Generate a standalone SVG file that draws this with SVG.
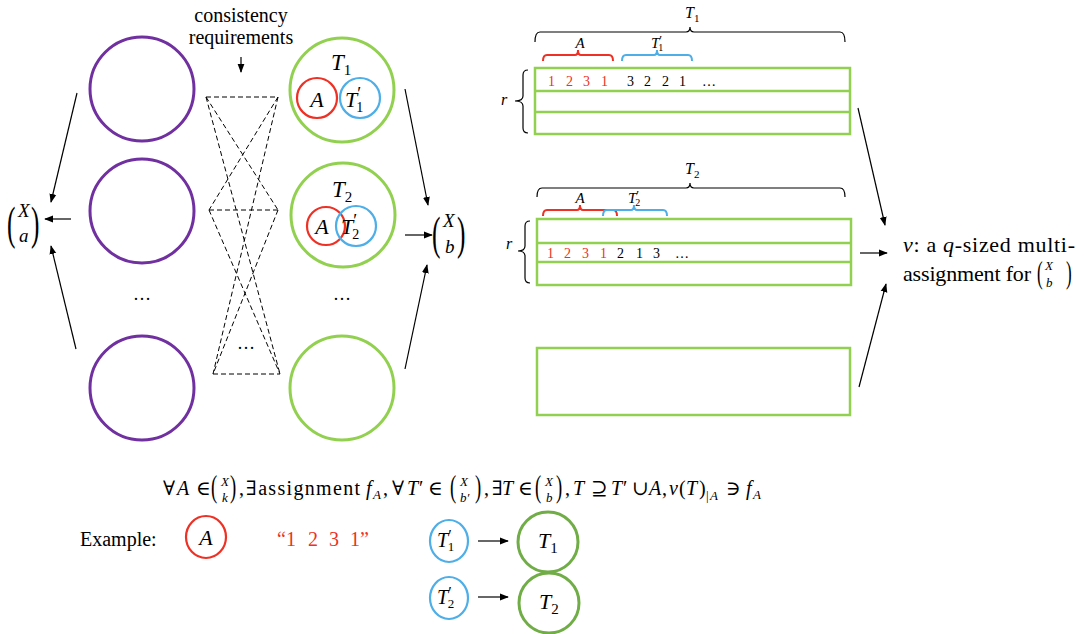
<svg xmlns="http://www.w3.org/2000/svg" width="1084" height="634" viewBox="0 0 1084 634" font-family="'Liberation Serif', 'Times New Roman', Times, 'DejaVu Serif', serif">
<defs>
<marker id="ah" viewBox="0 0 10 10" refX="9" refY="5" markerWidth="9" markerHeight="9" orient="auto" markerUnits="userSpaceOnUse"><path d="M0,1.2 L10,5 L0,8.8 z" fill="#000"/></marker>
</defs>
<style>
text{font-family:'Liberation Serif','Times New Roman',Times,'DejaVu Serif',serif;fill:#000}
.i{font-style:italic}
.pu{fill:none;stroke:#7030A0;stroke-width:3}
.gr{fill:none;stroke:#92D050;stroke-width:3}
.gd{fill:none;stroke:#70AD47;stroke-width:3}
.rd{fill:none;stroke:#EE3124;stroke-width:2.2}
.bl{fill:none;stroke:#4EAEE8;stroke-width:2.2}
.tb{fill:none;stroke:#92D050;stroke-width:2.5}
.dash{stroke:#000;stroke-width:1;stroke-dasharray:5 3;fill:none}
.arr{stroke:#000;stroke-width:1.2;fill:none;marker-end:url(#ah)}
.br{fill:none;stroke:#000;stroke-width:1.2}
.brr{fill:none;stroke:#EE3124;stroke-width:2}
.brb{fill:none;stroke:#4EAEE8;stroke-width:2}
.red{fill:#EE3124}
</style>
<rect width="1084" height="634" fill="#fff"/>

<g id="consistency-label">
<text x="241" y="22" font-size="20" text-anchor="middle">consistency</text>
<text x="241" y="44" font-size="20" text-anchor="middle">requirements</text>
</g>

<g id="purple-1"><circle class="pu" cx="142" cy="89" r="52"/></g>
<g id="purple-2"><circle class="pu" cx="142" cy="211" r="52"/></g>
<g id="purple-3"><circle class="pu" cx="142" cy="388" r="52"/></g>
<text x="142" y="300" font-size="18" text-anchor="middle">…</text>

<g id="green-T1">
<circle class="gr" cx="342" cy="90" r="52"/>
<text class="i" x="331" y="70" font-size="23">T<tspan font-style="normal" font-size="15" dy="5">1</tspan></text>
<circle class="rd" cx="317" cy="98" r="20"/>
<text class="i" x="317" y="107" font-size="22" text-anchor="middle">A</text>
<circle class="bl" cx="360" cy="98" r="20"/>
<text class="i" x="345" y="107" font-size="22">T<tspan font-style="normal" font-size="18" dy="-7">′</tspan><tspan font-style="normal" font-size="14" dx="-5" dy="12">1</tspan></text>
</g>
<g id="green-T2">
<circle class="gr" cx="343" cy="215" r="52"/>
<text class="i" x="332" y="197" font-size="23">T<tspan font-style="normal" font-size="15" dy="5">2</tspan></text>
<circle class="rd" cx="326" cy="226" r="19"/>
<text class="i" x="322" y="234" font-size="22" text-anchor="middle">A</text>
<circle class="bl" cx="356" cy="226" r="20"/>
<text class="i" x="341" y="234" font-size="22">T<tspan font-style="normal" font-size="18" dy="-7">′</tspan><tspan font-style="normal" font-size="14" dx="-5" dy="12">2</tspan></text>
</g>
<g id="green-3"><circle class="gr" cx="342" cy="388" r="52"/></g>
<text x="342" y="300" font-size="18" text-anchor="middle">…</text>
<text x="246" y="349" font-size="18" text-anchor="middle">…</text>

<g id="binom-a">
<text transform="translate(7,239) scale(0.55,1)" font-size="46">(</text>
<text class="i" x="18" y="217" font-size="19">X</text>
<text class="i" x="19" y="242" font-size="19">a</text>
<text transform="translate(31,239) scale(0.55,1)" font-size="46">)</text>
</g>
<g id="binom-b">
<text transform="translate(432,249) scale(0.55,1)" font-size="46">(</text>
<text class="i" x="443" y="227" font-size="19">X</text>
<text class="i" x="445" y="253" font-size="19">b</text>
<text transform="translate(457,249) scale(0.55,1)" font-size="46">)</text>
</g>

<g id="table-T1">
<text class="i" x="685" y="18" font-size="16">T<tspan font-style="normal" font-size="11" dy="4">1</tspan></text>
<path class="br" d="M535,42 Q535,32 540,32 L686,32 Q690,32 690,27 Q690,32 694,32 L840,32 Q845,32 845,42"/>
<text class="i" x="580" y="48" font-size="15" text-anchor="middle">A</text>
<path class="brr" d="M543,61 Q543,55 547,55 L575,55 Q578,55 578,50 Q578,55 581,55 L609,55 Q613,55 613,61"/>
<text class="i" x="651" y="48" font-size="15">T<tspan font-style="normal" font-size="13" dy="-4">′</tspan><tspan font-style="normal" font-size="10" dx="-4" dy="7">1</tspan></text>
<path class="brb" d="M622,61 Q622,55 626,55 L654,55 Q657,55 657,50 Q657,55 660,55 L688,55 Q692,55 692,61"/>
<text class="i" x="501" y="105" font-size="16">r</text>
<path class="br" d="M528,70 Q523,70 523,75 L523,96 Q523,101 515,101 Q523,101 523,106 L523,128 Q523,133 528,133"/>
<rect class="tb" x="535" y="68" width="315" height="66"/>
<line class="tb" x1="535" y1="91" x2="850" y2="91"/>
<line class="tb" x1="535" y1="112" x2="850" y2="112"/>
<text font-size="14" y="86"><tspan class="red" x="548">1</tspan><tspan class="red" x="566">2</tspan><tspan class="red" x="583">3</tspan><tspan class="red" x="601">1</tspan><tspan x="627">3</tspan><tspan x="644">2</tspan><tspan x="662">2</tspan><tspan x="679">1</tspan><tspan x="702">…</tspan></text>
</g>

<g id="table-T2">
<text class="i" x="685" y="174" font-size="16">T<tspan font-style="normal" font-size="11" dy="4">2</tspan></text>
<path class="br" d="M537,197 Q537,188 542,188 L686,188 Q690,188 690,183 Q690,188 694,188 L840,188 Q845,188 845,197"/>
<text class="i" x="580" y="203" font-size="15" text-anchor="middle">A</text>
<path class="brr" d="M543,216 Q543,210 547,210 L577,210 Q580,210 580,205 Q580,210 583,210 L613,210 Q617,210 617,216"/>
<text class="i" x="628" y="203" font-size="15">T<tspan font-style="normal" font-size="13" dy="-4">′</tspan><tspan font-style="normal" font-size="10" dx="-4" dy="7">2</tspan></text>
<path class="brb" d="M603,216 Q603,210 607,210 L631,210 Q634,210 634,205 Q634,210 637,210 L663,210 Q667,210 667,216"/>
<text class="i" x="506" y="249" font-size="16">r</text>
<path class="br" d="M530,221 Q525,221 525,226 L525,246 Q525,251 518,251 Q525,251 525,256 L525,278 Q525,283 530,283"/>
<rect class="tb" x="537" y="219" width="314" height="66"/>
<line class="tb" x1="537" y1="243" x2="851" y2="243"/>
<line class="tb" x1="537" y1="262" x2="851" y2="262"/>
<text font-size="14" y="258"><tspan class="red" x="547">1</tspan><tspan class="red" x="564">2</tspan><tspan class="red" x="582">3</tspan><tspan class="red" x="600">1</tspan><tspan x="617">2</tspan><tspan x="636">1</tspan><tspan x="653">3</tspan><tspan x="675">…</tspan></text>
</g>

<g id="table-3"><rect class="tb" x="537" y="348" width="313" height="67"/></g>

<g id="v-label">
<text x="903" y="252" font-size="22" textLength="172" lengthAdjust="spacing"><tspan class="i">v</tspan>: a <tspan class="i">q</tspan>-sized multi-</text>
<text x="903" y="281" font-size="22" textLength="128" lengthAdjust="spacing">assignment for</text>
<text transform="translate(1037,283) scale(0.55,1)" font-size="31">(</text>
<text class="i" x="1045" y="270" font-size="13">X</text>
<text class="i" x="1046" y="287" font-size="13">b</text>
<text transform="translate(1066,283) scale(0.55,1)" font-size="31">)</text>
</g>

<g id="connectors">
<line class="arr" x1="241" y1="57" x2="241" y2="72"/>
<line class="dash" x1="206" y1="97" x2="278" y2="97"/>
<line class="dash" x1="209" y1="210" x2="278" y2="210"/>
<line class="dash" x1="213" y1="374" x2="280" y2="374"/>
<line class="dash" x1="206" y1="97" x2="278" y2="210"/>
<line class="dash" x1="278" y1="97" x2="209" y2="210"/>
<line class="dash" x1="206" y1="97" x2="280" y2="374"/>
<line class="dash" x1="278" y1="97" x2="213" y2="374"/>
<line class="dash" x1="209" y1="210" x2="280" y2="374"/>
<line class="dash" x1="278" y1="210" x2="213" y2="374"/>
<line class="arr" x1="77" y1="93" x2="51" y2="202"/>
<line class="arr" x1="71" y1="219" x2="45" y2="219"/>
<line class="arr" x1="76" y1="349" x2="51" y2="246"/>
<line class="arr" x1="405" y1="89" x2="428" y2="205"/>
<line class="arr" x1="405" y1="235" x2="432" y2="235"/>
<line class="arr" x1="405" y1="369" x2="427" y2="265"/>
<line class="arr" x1="858" y1="108" x2="885" y2="225"/>
<line class="arr" x1="860" y1="253" x2="887" y2="253"/>
<line class="arr" x1="859" y1="387" x2="886" y2="284"/>
<line class="arr" x1="478" y1="541" x2="508" y2="541"/>
<line class="arr" x1="478" y1="597" x2="508" y2="597"/>
</g>

<g id="formula" font-size="20">
<text y="495"><tspan x="163">∀</tspan><tspan class="i" x="177">A</tspan><tspan x="196">∈</tspan></text>
<text transform="translate(211,497) scale(0.6,1)" font-size="31">(</text>
<text class="i" x="221" y="486" font-size="13">X</text>
<text class="i" x="222" y="502" font-size="13">k</text>
<text transform="translate(230,497) scale(0.6,1)" font-size="31">)</text>
<text y="495"><tspan x="239">,</tspan><tspan x="246" textLength="114" lengthAdjust="spacing">∃assignment</tspan><tspan class="i" x="366">f</tspan><tspan class="i" x="373" y="499" font-size="13">A</tspan><tspan x="383" y="495">,</tspan><tspan x="392">∀</tspan><tspan class="i" x="407">T</tspan><tspan x="419">′</tspan><tspan x="428">∈</tspan></text>
<text transform="translate(450,497) scale(0.6,1)" font-size="31">(</text>
<text class="i" x="460" y="486" font-size="13">X</text>
<text class="i" x="460" y="502" font-size="13">b′</text>
<text transform="translate(475,497) scale(0.6,1)" font-size="31">)</text>
<text y="495"><tspan x="484">,</tspan><tspan x="492">∃</tspan><tspan class="i" x="502">T</tspan><tspan x="518">∈</tspan></text>
<text transform="translate(535,497) scale(0.6,1)" font-size="31">(</text>
<text class="i" x="545" y="486" font-size="13">X</text>
<text class="i" x="546" y="502" font-size="13">b</text>
<text transform="translate(556,497) scale(0.6,1)" font-size="31">)</text>
<text y="495"><tspan x="565">,</tspan><tspan class="i" x="573">T</tspan><tspan x="591">⊇</tspan><tspan class="i" x="611">T</tspan><tspan x="623">′</tspan><tspan x="632">∪</tspan><tspan class="i" x="649">A</tspan><tspan x="662">,</tspan><tspan class="i" x="669">v</tspan><tspan x="679">(</tspan><tspan class="i" x="686">T</tspan><tspan x="699">)</tspan><tspan x="706" y="500" font-size="13">|</tspan><tspan class="i" x="710" y="500" font-size="13">A</tspan><tspan x="726" y="495">∋</tspan><tspan class="i" x="746">f</tspan><tspan class="i" x="753" y="499" font-size="13">A</tspan></text>
</g>

<g id="example">
<text x="80" y="546" font-size="20">Example:</text>
<ellipse class="rd" cx="206" cy="537" rx="20" ry="21"/>
<text class="i" x="206" y="545" font-size="22" text-anchor="middle">A</text>
<text class="red" font-size="20" y="546"><tspan x="277">“1</tspan><tspan x="308">2</tspan><tspan x="329">3</tspan><tspan x="350">1”</tspan></text>
</g>
<g id="ex-T1p"><ellipse class="bl" cx="449" cy="541" rx="19" ry="21"/><text class="i" x="437" y="547" font-size="20">T<tspan font-style="normal" font-size="16" dy="-6">′</tspan><tspan font-style="normal" font-size="13" dx="-4" dy="10">1</tspan></text></g>
<g id="ex-T1"><circle class="gd" cx="548" cy="542" r="30"/><text class="i" x="538" y="548" font-size="22">T<tspan font-style="normal" font-size="15" dy="5">1</tspan></text></g>
<g id="ex-T2p"><ellipse class="bl" cx="449" cy="598" rx="19" ry="21"/><text class="i" x="437" y="604" font-size="20">T<tspan font-style="normal" font-size="16" dy="-6">′</tspan><tspan font-style="normal" font-size="13" dx="-4" dy="10">2</tspan></text></g>
<g id="ex-T2"><circle class="gd" cx="549" cy="603" r="30"/><text class="i" x="539" y="609" font-size="22">T<tspan font-style="normal" font-size="15" dy="5">2</tspan></text></g>
</svg>
